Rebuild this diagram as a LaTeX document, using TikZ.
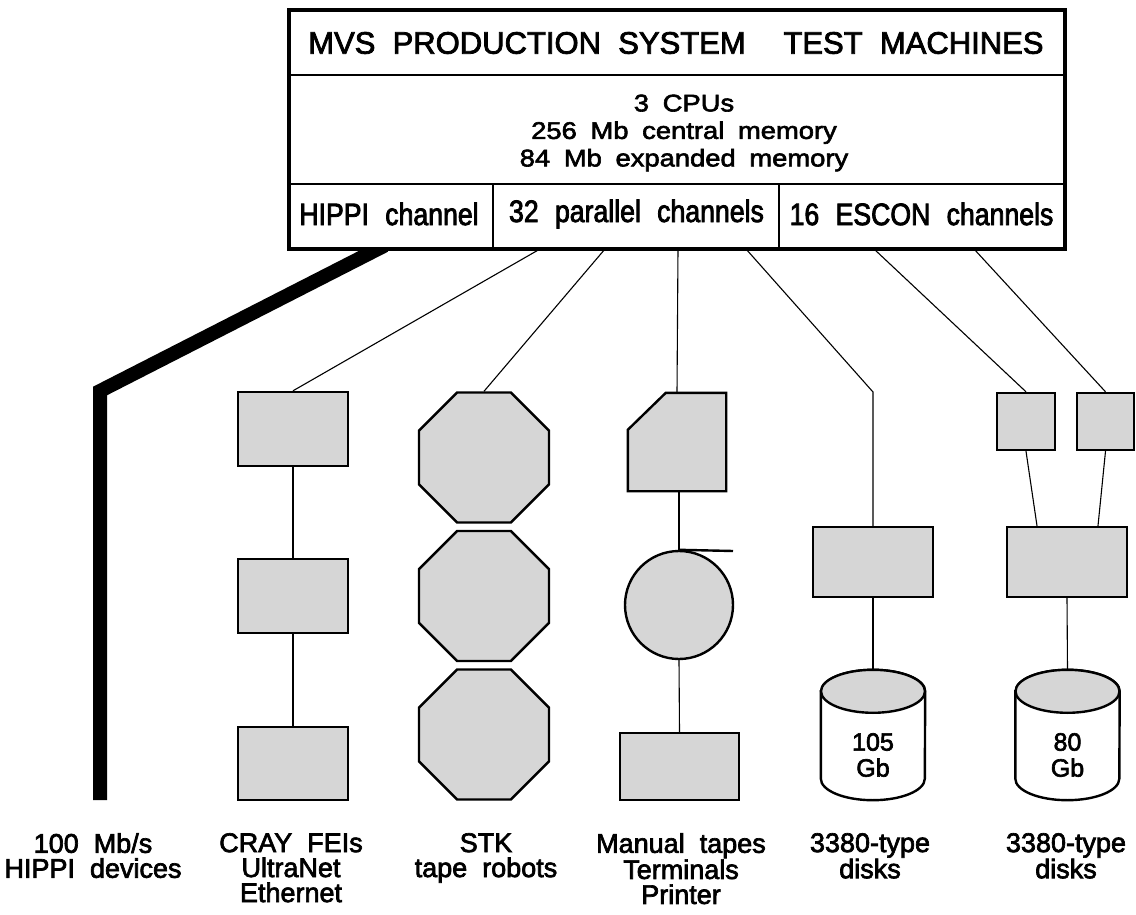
\documentclass[tikz,border=0pt]{standalone}
\usepackage{fontspec}
\setmainfont{Liberation Sans}[WordSpace=2.0, FakeBold=2.5]
\newfontfamily\rowtwofont{Liberation Sans}[WordSpace=1.8, FakeBold=2.5, FakeStretch=1.14]
\newfontfamily\rowthreefont{Liberation Sans}[WordSpace=2.2, FakeBold=2.5, FakeStretch=0.86]
\usetikzlibrary{shapes.geometric}
\pgfdeclarelayer{bg}
\pgfsetlayers{bg,main}
\begin{document}
\begin{tikzpicture}[x=1pt,y=-1pt,
  cell/.style={draw, line width=2pt, fill=white, inner sep=0, minimum height=64pt},
  shapefill/.style={draw, line width=2.4pt, fill=black!16, inner sep=0},
  devbox/.style={shapefill, rectangle},
  octa/.style={shapefill, regular polygon, regular polygon sides=8, minimum size=140.7pt},
  ghost/.style={rectangle, draw=none, inner sep=0},
  link/.style={line width=1.1pt},
  hippiline/.style={line width=14pt, line join=miter},
  titlefont/.style={font=\fontsize{31}{32}\selectfont, inner sep=0},
  spectxt/.style={font=\rowtwofont\fontsize{24}{27.5}\selectfont, align=center, inner sep=0},
  chantxt/.style={font=\rowthreefont\fontsize{31}{32}\selectfont, inner sep=0},
  txt/.style={font=\fontsize{27}{25}\selectfont, align=center, inner sep=0},
  disktxt/.style={font=\fontsize{25}{26}\selectfont, align=center, inner sep=0},
]
\useasboundingbox (0,0) rectangle (1136,915);

% ---------- top box ----------
\node[cell, minimum width=774pt] (r1) at (677,43) {};
\node[cell, minimum width=774pt, minimum height=109pt] (r2) at (677,129.5) {};
\node[cell, minimum width=203pt] (c1) at (391.5,216) {};
\node[cell, minimum width=286pt] (c2) at (636,216) {};
\node[cell, minimum width=285pt] (c3) at (921.5,216) {};
\draw[line width=3.5pt] (r1.north west) rectangle (c3.south east);

\node[titlefont] (t1) at (527,43) {MVS PRODUCTION SYSTEM};
\node[titlefont] (t2) at (913.5,43) {TEST MACHINES};
\node[spectxt] (spec) at (684,133) {3 CPUs\\256 Mb central memory\\84 Mb expanded memory};
\node[chantxt] (tc1) at (389,214) {HIPPI channel};
\node[chantxt] (tc2) at (636.5,214) {32 parallel channels};
\node[chantxt] (tc3) at (921.5,214) {16 ESCON channels};

% ---------- devices ----------
% CRAY column
\node[devbox, minimum width=110pt, minimum height=74pt] (cr1) at (293,429) {};
\node[devbox, minimum width=110pt, minimum height=74pt] (cr2) at (293,596) {};
\node[devbox, minimum width=110pt, minimum height=73pt] (cr3) at (293,763.5) {};
% STK column
\node[octa] (st1) at (484,457.5) {};
\node[octa] (st2) at (484,596) {};
\node[octa] (st3) at (484,734.5) {};
% Manual tapes column
\node[ghost, minimum width=98pt, minimum height=98pt] (mt) at (677,442) {};
\filldraw[shapefill] (mt.south west) -- (mt.south east) -- (mt.north east)
   -- ([xshift=38pt]mt.north west) -- ([yshift=-37pt]mt.north west) -- cycle;
\node[shapefill, circle, minimum size=108pt] (reel) at (679,605) {};
\coordinate (tapeend) at (733,551);
\draw[line width=2.4pt] (reel.north) -- (tapeend);
\node[devbox, minimum width=119pt, minimum height=67pt] (pr) at (679.5,766.5) {};
% 3380 disks, first column
\node[devbox, minimum width=120pt, minimum height=70pt] (db1) at (873,562) {};
\node[ghost, minimum width=104pt, minimum height=130pt] (d1) at (873,735) {};
\filldraw[line width=2.4pt, fill=white] ([yshift=-21.5pt]d1.north west) -- ([yshift=21.5pt]d1.south west)
   arc[start angle=180, end angle=360, x radius=52pt, y radius=21.5pt]
   -- ([yshift=-21.5pt]d1.north east)
   arc[start angle=0, end angle=180, x radius=52pt, y radius=21.5pt] -- cycle;
\filldraw[line width=2.4pt, fill=black!16] ([yshift=-21.5pt]d1.north) ellipse [x radius=52pt, y radius=21.5pt];
\node[disktxt] (d1t) at (873,755) {105\\Gb};
% 3380 disks, second column
\node[devbox, minimum width=58pt, minimum height=57pt] (sa) at (1026,421.5) {};
\node[devbox, minimum width=57pt, minimum height=57pt] (sb) at (1105.5,421.5) {};
\node[devbox, minimum width=120pt, minimum height=70pt] (db2) at (1067,562) {};
\node[ghost, minimum width=104pt, minimum height=130pt] (d2) at (1067.5,735) {};
\filldraw[line width=2.4pt, fill=white] ([yshift=-21.5pt]d2.north west) -- ([yshift=21.5pt]d2.south west)
   arc[start angle=180, end angle=360, x radius=52pt, y radius=21.5pt]
   -- ([yshift=-21.5pt]d2.north east)
   arc[start angle=0, end angle=180, x radius=52pt, y radius=21.5pt] -- cycle;
\filldraw[line width=2.4pt, fill=black!16] ([yshift=-21.5pt]d2.north) ellipse [x radius=52pt, y radius=21.5pt];
\node[disktxt] (d2t) at (1067.5,755) {80\\Gb};

% ---------- connectors ----------
\coordinate (hbend) at (100,391);
\coordinate (hend) at (100,800);
\coordinate (kbend) at (873,392);
\begin{pgfonlayer}{bg}
\draw[hippiline] ([xshift=-6.5pt,yshift=3.6pt]c1.south) -- (hbend) -- (hend);
\draw[link] ([xshift=-96pt]c2.south) -- (cr1.north);
\draw[link] (cr1.south) -- (cr2.north);
\draw[link] (cr2.south) -- (cr3.north);
\draw[link] ([xshift=-31pt]c2.south) -- (st1.north);
\draw[link] ([xshift=42pt]c2.south) -- (mt.north);
\draw[link] (mt.south) -- (reel.south |- mt.south) -- (reel.north);
\draw[link] (reel.south) -- (pr.north);
\draw[link] ([xshift=110pt]c2.south) -- (kbend) -- (db1.north);
\draw[link] (db1.south) -- (d1.north);
\draw[link] ([xshift=-47.5pt]c3.south) -- (sa.north);
\draw[link] ([xshift=52.5pt]c3.south) -- (sb.north);
\draw[link] (sa.south) -- ([xshift=-30pt]db2.north);
\draw[link] (sb.south) -- ([xshift=31pt]db2.north);
\draw[link] (db2.south) -- (d2.north);
\end{pgfonlayer}

% ---------- labels ----------
\node[txt, anchor=north] (l1) at (93,833) {100 Mb/s\\HIPPI devices};
\node[txt, anchor=north] (l2) at (291,833) {CRAY FEIs\\UltraNet\\Ethernet};
\node[txt, anchor=north] (l3) at (486,833) {STK\\tape robots};
\node[txt, anchor=north] (l4) at (681,833) {Manual tapes\\Terminals\\Printer};
\node[txt, anchor=north] (l5) at (870,833) {3380-type\\disks};
\node[txt, anchor=north] (l6) at (1066,833) {3380-type\\disks};
\end{tikzpicture}
\end{document}
